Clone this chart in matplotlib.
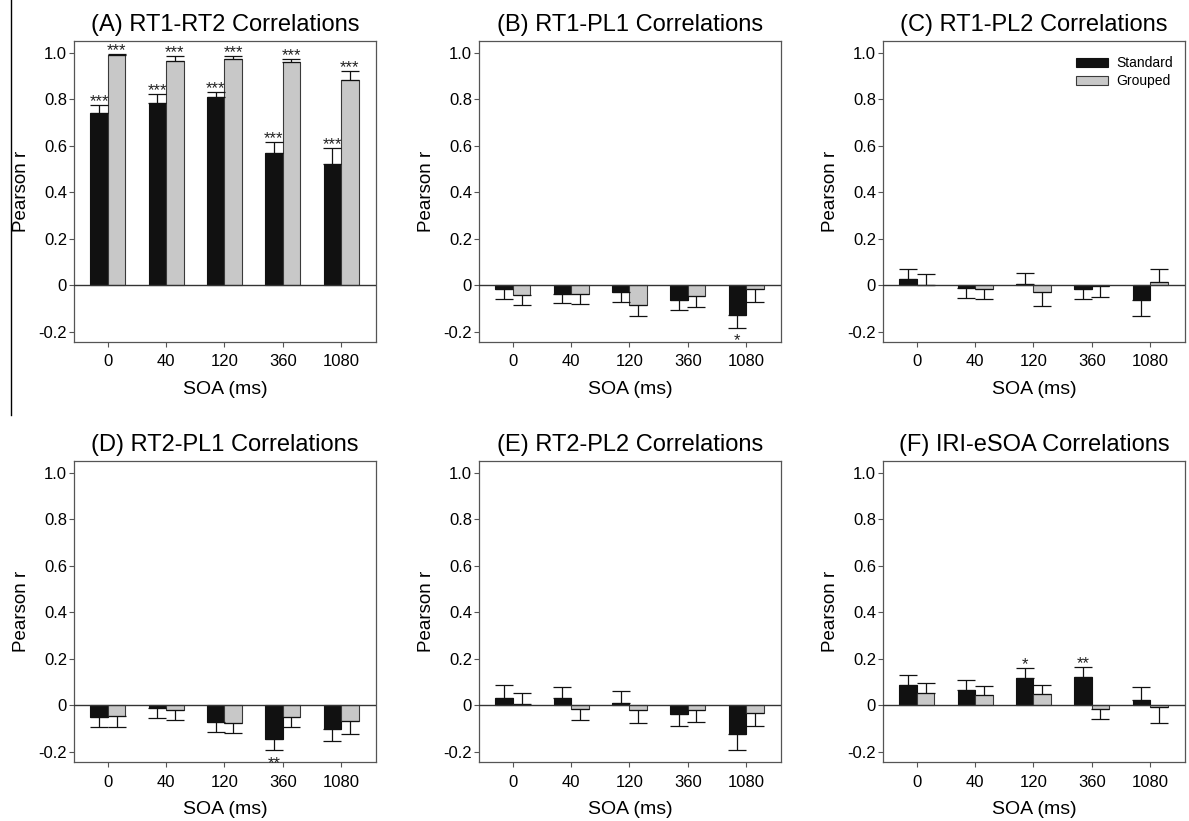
import numpy as np
import matplotlib
matplotlib.use("Agg")
import matplotlib.pyplot as plt
from matplotlib.lines import Line2D

plt.rcParams['font.family'] = ['Liberation Sans', 'DejaVu Sans']

soa_labels = ["0", "40", "120", "360", "1080"]
titles = ["(A) RT1-RT2 Correlations", "(B) RT1-PL1 Correlations",
          "(C) RT1-PL2 Correlations", "(D) RT2-PL1 Correlations",
          "(E) RT2-PL2 Correlations", "(F) IRI-eSOA Correlations"]

# mean r and error (one-sided, away from zero) per SOA
a_std = [0.739, 0.785, 0.809, 0.570, 0.521]
a_std_err = [0.036, 0.039, 0.023, 0.045, 0.070]
a_grp = [0.990, 0.964, 0.973, 0.961, 0.884]
a_grp_err = [0.004, 0.023, 0.014, 0.012, 0.036]
a_std_sig = ["***"] * 5
a_grp_sig = ["***"] * 5

b_std = [-0.016, -0.039, -0.032, -0.063, -0.127]
b_std_err = [0.042, 0.037, 0.040, 0.046, 0.056]
b_grp = [-0.042, -0.039, -0.086, -0.049, -0.019]
b_grp_err = [0.044, 0.043, 0.045, 0.045, 0.056]
b_std_sig = ["", "", "", "", "*"]
b_grp_sig = [""] * 5

c_std = [0.024, -0.011, 0.004, -0.016, -0.066]
c_std_err = [0.046, 0.044, 0.049, 0.044, 0.069]
c_grp = [0.001, -0.017, -0.032, -0.004, 0.013]
c_grp_err = [0.046, 0.042, 0.056, 0.048, 0.056]
c_std_sig = [""] * 5
c_grp_sig = [""] * 5

d_std = [-0.052, -0.013, -0.073, -0.148, -0.101]
d_std_err = [0.043, 0.043, 0.043, 0.047, 0.053]
d_grp = [-0.047, -0.020, -0.079, -0.053, -0.068]
d_grp_err = [0.049, 0.043, 0.043, 0.043, 0.056]
d_std_sig = ["", "", "", "**", ""]
d_grp_sig = [""] * 5

e_std = [0.030, 0.029, 0.007, -0.037, -0.124]
e_std_err = [0.057, 0.047, 0.053, 0.054, 0.069]
e_grp = [0.006, -0.019, -0.021, -0.023, -0.033]
e_grp_err = [0.045, 0.044, 0.055, 0.048, 0.056]
e_std_sig = [""] * 5
e_grp_sig = [""] * 5

f_std = [0.085, 0.065, 0.115, 0.122, 0.023]
f_std_err = [0.046, 0.041, 0.044, 0.042, 0.056]
f_grp = [0.050, 0.042, 0.046, -0.016, -0.009]
f_grp_err = [0.046, 0.038, 0.042, 0.044, 0.070]
f_std_sig = ["", "", "*", "**", ""]
f_grp_sig = [""] * 5

panels = [
    (a_std, a_std_err, a_std_sig, a_grp, a_grp_err, a_grp_sig),
    (b_std, b_std_err, b_std_sig, b_grp, b_grp_err, b_grp_sig),
    (c_std, c_std_err, c_std_sig, c_grp, c_grp_err, c_grp_sig),
    (d_std, d_std_err, d_std_sig, d_grp, d_grp_err, d_grp_sig),
    (e_std, e_std_err, e_std_sig, e_grp, e_grp_err, e_grp_sig),
    (f_std, f_std_err, f_std_sig, f_grp, f_grp_err, f_grp_sig),
]

W, H = 1189, 821
fig = plt.figure(figsize=(W / 100, H / 100), dpi=100)

col_left = [74, 479, 883]
row_top = [41, 461]
ax_w, ax_h = 302, 301

x = np.arange(len(soa_labels))
bw = 0.3
spine_col = "#555555"


def one_sided(vals, errs):
    vals = np.asarray(vals)
    errs = np.asarray(errs)
    up = np.where(vals >= 0, errs, 0)
    lo = np.where(vals < 0, errs, 0)
    return [lo, up]


for i, (title, p) in enumerate(zip(titles, panels)):
    r, c = divmod(i, 3)
    ax = fig.add_axes([col_left[c] / W, 1 - (row_top[r] + ax_h) / H, ax_w / W, ax_h / H])
    std, std_err, std_sig, grp, grp_err, grp_sig = p

    for off, vals, errs, sig, fc, ec, lab in [
            (-bw / 2, std, std_err, std_sig, "#111111", "#111111", "Standard"),
            (bw / 2, grp, grp_err, grp_sig, "#c8c8c8", "#3a3a3a", "Grouped")]:
        ax.bar(x + off, vals, width=bw, color=fc, edgecolor=ec, linewidth=0.8,
               label=lab, zorder=2)
        ax.errorbar(x + off, vals, yerr=one_sided(vals, errs), fmt="none",
                    ecolor="#111111", elinewidth=0.9, capsize=6.5, capthick=0.9,
                    zorder=3)
        for xi, v, e, s in zip(x + off, vals, errs, sig):
            if not s:
                continue
            if v >= 0:
                ax.annotate(s, (xi, v + e), xytext=(0, -1), textcoords="offset points",
                            ha="center", va="baseline", fontsize=12, color="#222222")
            else:
                ax.annotate(s, (xi, v - e), xytext=(0, -12.5), textcoords="offset points",
                            ha="center", va="baseline", fontsize=12, color="#222222")

    ax.axhline(0, color="#333333", linewidth=1.0, zorder=4)
    ax.set_xlim(-0.58, 4.6)
    ax.set_ylim(-0.245, 1.05)
    ax.set_yticks([-0.2, 0, 0.2, 0.4, 0.6, 0.8, 1.0])
    ax.set_yticklabels(["-0.2", "0", "0.2", "0.4", "0.6", "0.8", "1.0"])
    ax.set_xticks(x)
    ax.set_xticklabels(soa_labels)
    ax.tick_params(axis="both", direction="out", length=3.5, width=0.8,
                   color=spine_col, labelsize=12, top=False, right=False)
    ax.tick_params(axis="x", pad=5.5)
    ax.tick_params(axis="y", pad=1.5)
    for sp in ax.spines.values():
        sp.set_color(spine_col)
        sp.set_linewidth(0.9)
    ax.set_title(title, fontsize=17, pad=7)
    ax.set_ylabel("Pearson r", fontsize=13.5, labelpad=6)
    ax.set_xlabel("SOA (ms)", fontsize=14, labelpad=8.5)

    if i == 2:
        ax.legend(loc="upper right", bbox_to_anchor=(0.978, 0.968), frameon=False,
                  fontsize=10, handlelength=2.3, handleheight=0.65,
                  handletextpad=0.6, labelspacing=0.3, borderaxespad=0)

# stray vertical rule on the left edge of the original page
fig.add_artist(Line2D([11 / W, 11 / W], [1, 1 - 415 / H], transform=fig.transFigure,
                      color="black", linewidth=1))

fig.savefig("out.png", dpi=100)
